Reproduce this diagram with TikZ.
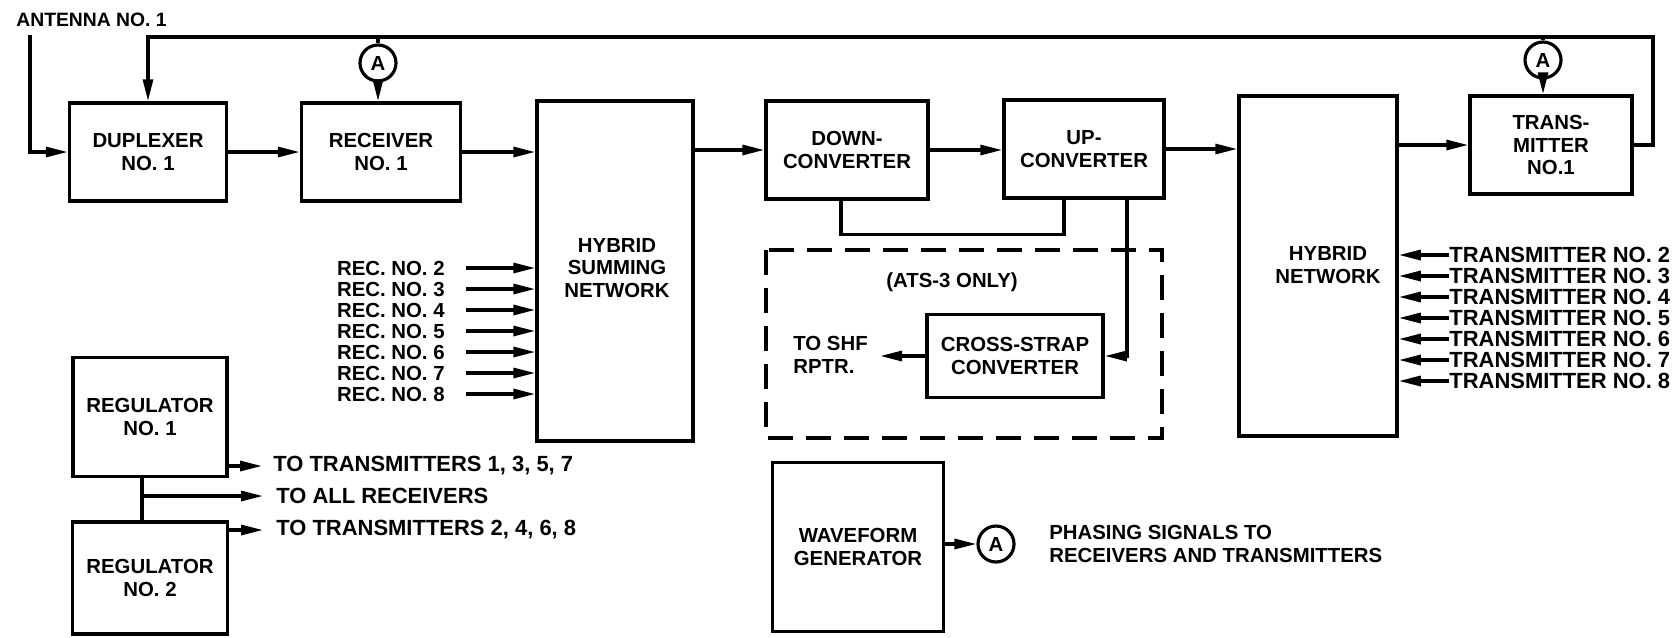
\documentclass[tikz,border=0pt]{standalone}
\usepackage{fontspec}
\setsansfont{Liberation Sans}
\usetikzlibrary{arrows.meta,positioning}

\begin{document}
\begin{tikzpicture}[x=0.02cm,y=-0.02cm,
  every node/.style={font=\sffamily\bfseries\fontsize{11.6}{13}\selectfont},
  blk/.style={draw,line width=2pt,inner sep=0pt,align=center},
  lbl/.style={inner sep=0pt,align=left},
  wide/.style={font=\sffamily\bfseries\fontsize{12.5}{13}\selectfont},
  wire/.style={line width=1.8pt},
  sig/.style={wire,-{Triangle[length=4.4mm,width=2mm]}},
  phs/.style={draw,circle,line width=1.8pt,minimum size=0.72cm,inner sep=0pt}]
  \useasboundingbox (0,0) rectangle (1679,637);

  \node[blk,minimum width=3.14cm,minimum height=1.96cm] (dup) at (148,152) {DUPLEXER\\NO. 1};
  \node[blk,minimum width=3.18cm,minimum height=1.96cm] (rec) at (381,152) {RECEIVER\\NO. 1};
  \node[blk,minimum width=3.12cm,minimum height=6.8cm] (summ) at (615,271) {};
  \node[align=center] (summtxt) at (617,268) {HYBRID\\SUMMING\\NETWORK};
  \node[blk,minimum width=3.24cm,minimum height=1.96cm] (down) at (847,150) {DOWN-\\CONVERTER};
  \node[blk,minimum width=3.2cm,minimum height=1.96cm] (up) at (1084,149) {UP-\\CONVERTER};
  \node[blk,minimum width=3.16cm,minimum height=6.8cm] (net) at (1318,266) {};
  \node[align=center] (nettxt) at (1328,265) {HYBRID\\NETWORK};
  \node[blk,minimum width=3.24cm,minimum height=1.96cm] (trans) at (1551,145) {TRANS-\\MITTER\\NO.1};

  \node[lbl,anchor=west,font=\sffamily\bfseries\fontsize{11}{13}\selectfont] (ant) at (16,20) {ANTENNA NO. 1};
  \coordinate (antin) at (30,35);
  \draw[sig] (antin) |- (dup.west);
  \draw[sig] (dup.east) -- (rec.west);
  \draw[sig] (rec.east) -- (rec.east -| summ.west);
  \draw[sig] (summ.east |- down.west) -- (down.west);
  \draw[sig] (down.east) -- (down.east -| up.west);
  \draw[sig] (up.east) -- (up.east -| net.west);
  \draw[sig] (net.east |- trans.west) -- (trans.west);

  \node[phs] (a1) at (378,63) {A};
  \node[phs] (a2) at (1543,60) {A};
  \coordinate (fb) at (1653,37);
  \draw[sig] (trans.east) -| (fb) -| (dup.north);
  \draw[wire] (a1.north) -- (a1.north |- fb);
  \draw[sig] (a1.south) -- (a1.south |- rec.north);
  \draw[wire] (a2.north) -- (a2.north |- fb);
  \draw[sig] (a2.south) -- (a2.south |- trans.north);

  \foreach \k/\y in {2/268,3/289,4/310,5/331,6/352,7/373,8/394} {
    \node[lbl,anchor=east] (rx\k) at (445,\y) {REC. NO. \k};
    \draw[sig] ([xshift=0.42cm]rx\k.east) -- (rx\k.east -| summ.west);
  }
  \foreach \k/\y in {2/255,3/276,4/297,5/318,6/339,7/360,8/381} {
    \node[lbl,wide,anchor=west] (tx\k) at (1449,\y) {TRANSMITTER NO. \k};
    \draw[sig] (tx\k.west) -- (tx\k.west -| net.east);
  }

  \draw[wire] ([xshift=-0.12cm]down.south) -- ++(0,34) -| ([xshift=-0.4cm]up.south);
  \draw[wire,dash pattern=on 0.5cm off 0.26cm] (766,250) rectangle (1162,438);
  \node (ats) at (952,282) {(ATS-3 ONLY)};
  \node[blk,minimum width=3.52cm,minimum height=1.66cm] (cross) at (1015,356) {CROSS-STRAP\\CONVERTER};
  \node[lbl,anchor=west] (shf) at (793,355) {TO SHF\\RPTR.};
  \draw[sig] ([xshift=0.86cm]up.south) |- (cross.east);
  \draw[sig,shorten >=0.24cm] (cross.west) -- (cross.west -| shf.east);

  \node[blk,minimum width=3.08cm,minimum height=2.38cm] (reg1) at (150,417) {REGULATOR\\NO. 1};
  \node[blk,minimum width=3.1cm,minimum height=2.24cm] (reg2) at (150,578) {REGULATOR\\NO. 2};
  \node[lbl,wide,anchor=west] (odd) at (273,466) {TO TRANSMITTERS 1, 3, 5, 7};
  \node[lbl,wide,anchor=west] (allrx) at (276,496) {TO ALL RECEIVERS};
  \node[lbl,wide,anchor=west] (even) at (276,530) {TO TRANSMITTERS 2, 4, 6, 8};
  \coordinate (tap) at ([xshift=-0.16cm]reg1.south);
  \draw[wire] (tap) -- (tap |- reg2.north);
  \draw[sig,shorten >=0.22cm] (reg1.east |- odd.west) -- (odd.west);
  \draw[sig,shorten >=0.26cm] (tap |- allrx.west) -- (allrx.west);
  \draw[sig,shorten >=0.26cm] (reg2.east |- even.west) -- (even.west);

  \node[blk,minimum width=3.42cm,minimum height=3.38cm] (wave) at (858,547) {WAVEFORM\\GENERATOR};
  \node[phs] (a3) at (996,544) {A};
  \draw[sig] (wave.east |- a3.west) -- (a3.west);
  \node[lbl,anchor=west] (phase) at (1049,544) {PHASING SIGNALS TO\\RECEIVERS AND TRANSMITTERS};
\end{tikzpicture}
\end{document}
